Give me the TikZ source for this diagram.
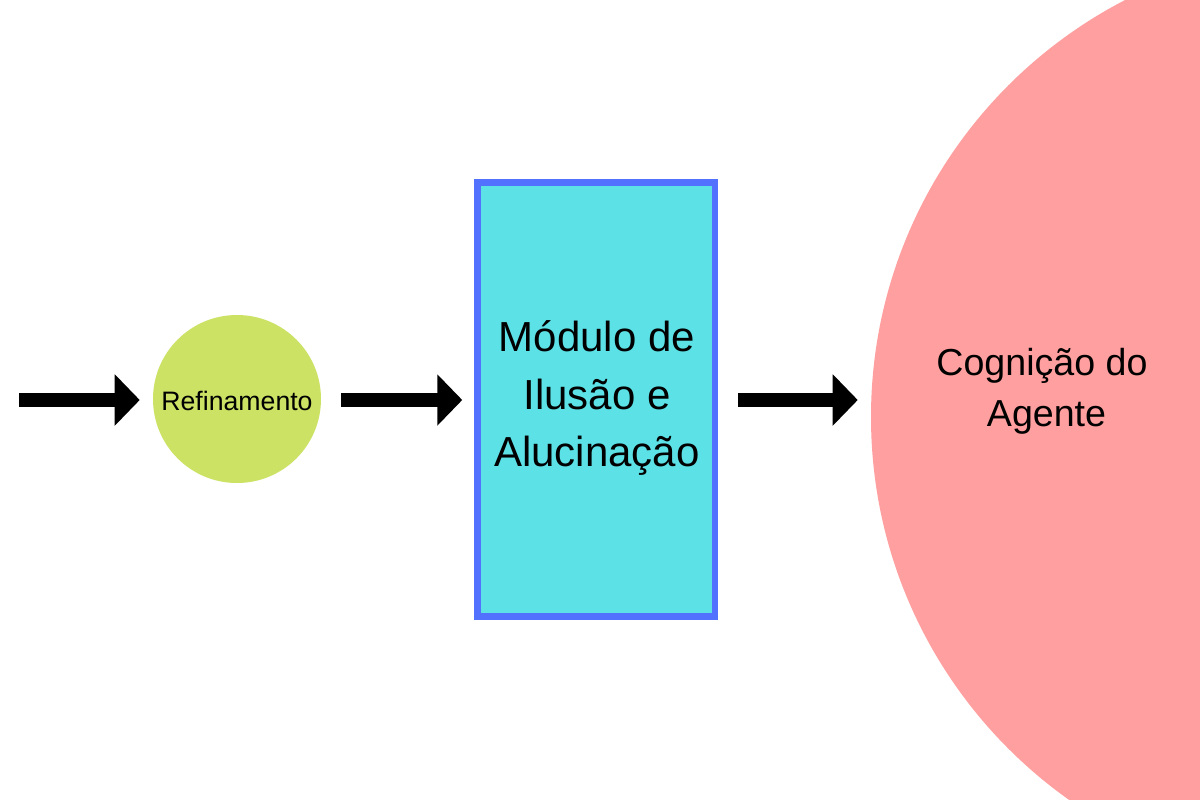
\documentclass[tikz,border=0pt]{standalone}
\usepackage{fontspec}
\setmainfont{Liberation Sans}
\usetikzlibrary{arrows.meta}
\definecolor{grn}{HTML}{CBE265}
\definecolor{teal1}{HTML}{5CE1E6}
\definecolor{blu}{HTML}{5271FF}
\definecolor{pnk}{HTML}{FF9F9F}
\tikzset{
  blockarrow/.style={line width=10pt, -{Triangle[length=18.75pt,width=37.5pt]}},
  refnode/.style={circle, fill=grn, minimum size=126pt, inner sep=0pt},
  reftext/.style={inner sep=0pt, font=\fontsize{20}{24}\selectfont},
  modnode/.style={rectangle, fill=teal1, draw=blu, line width=5pt,
    minimum width=178pt, minimum height=325.5pt, inner sep=0pt},
  modtext/.style={align=center, font=\fontsize{31.5}{43}\selectfont},
  cognode/.style={circle, fill=pnk, minimum size=703.5pt, inner sep=0pt},
  cogtext/.style={align=center, font=\fontsize{28.2}{38}\selectfont}
}
\begin{document}
\begin{tikzpicture}[x=0.75pt,y=-0.75pt]
\useasboundingbox (0,0) rectangle (1200,800);
\clip (0,0) rectangle (1200,800);
\fill[white] (0,0) rectangle (1200,800);
\node[cognode] (cog) at (1340,417) {};
\node[cogtext] (cogtxt) at (1042,391) {Cognição do\\\hspace*{6.75pt}Agente};
\node[refnode] (ref) at (237,399) {};
\node[reftext] (reftxt) at (237,401) {Refinamento};
\node[modnode] (mod) at (596.25,399.5) {};
\node[modtext] (modtxt) at (597,398) {Módulo de\\Ilusão e\\Alucinação};
\coordinate (in) at (19,400);
\draw[blockarrow, shorten >=9.75pt] (in) -- (ref.west |- in);
\draw[blockarrow, shorten <=15pt, shorten >=9pt] (ref.east |- in) -- (mod.west |- in);
\draw[blockarrow, shorten <=15pt, shorten >=9.75pt] (mod.east |- in) -- (cog.west |- in);
\end{tikzpicture}
\end{document}
